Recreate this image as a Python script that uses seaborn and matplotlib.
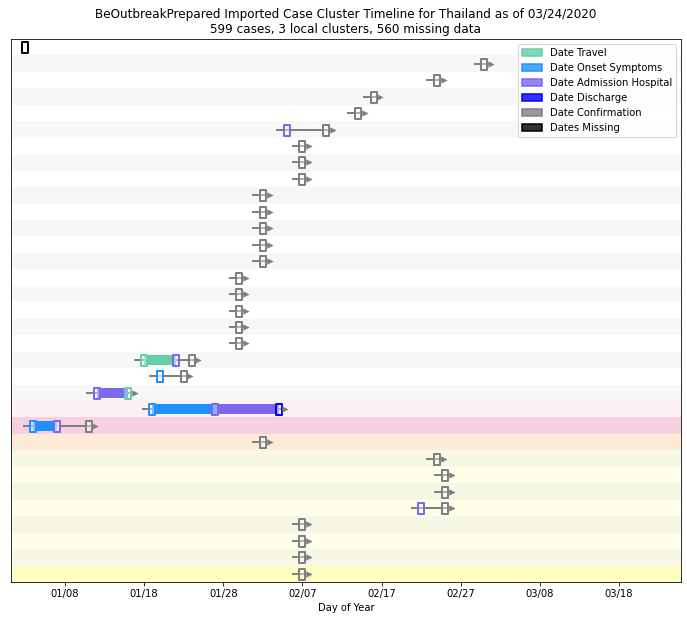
import numpy as np
import pandas as pd
import seaborn as sns
import matplotlib.pyplot as plt
from matplotlib.path import Path
from matplotlib.patches import Patch
from matplotlib.colors import to_rgba

# one row per case, top row = row 0; values are day of year 2020
n_rows = 33
travel = {19: 18, 20: 20, 21: 16, 23: 7}
onset = {20: 20, 22: 19, 23: 4}
admission = {5: 36, 19: 22, 21: 12, 22: 27, 23: 7, 28: 53}
discharge = {22: 35}
confirmation = {1: 61, 2: 55, 3: 47, 4: 45, 5: 41,
                6: 38, 7: 38, 8: 38,
                9: 33, 10: 33, 11: 33, 12: 33, 13: 33,
                14: 30, 15: 30, 16: 30, 17: 30, 18: 30,
                19: 24, 20: 23, 23: 11, 24: 33,
                25: 55, 26: 56, 27: 56, 28: 56,
                29: 38, 30: 38, 31: 38, 32: 38}
missing = {0: 3}

tick_days = [8, 18, 28, 38, 48, 58, 68, 78]
tick_labels = [(pd.Timestamp("2020-01-01") + pd.Timedelta(days=d - 1)).strftime("%m/%d")
               for d in tick_days]

events = ["Date Travel", "Date Onset Symptoms", "Date Admission Hospital",
          "Date Discharge", "Date Confirmation", "Dates Missing"]
event_data = [travel, onset, admission, discharge, confirmation, missing]
colors = ["#66cdaa", "#1e90ff", "#7b68ee", "#0000ff", "grey", "black"]

# row background shading (alternating grey, local clusters tinted)
row_bg = ["white" if i % 2 == 0 else "#f7f7f7" for i in range(22)]
row_bg += ["#fdf0f6", "#f7cfe1", "#fdebd7",
           "#f7f7e6", "#fefee9", "#f7f7e6", "#fefee9",
           "#f7f7e6", "#fefee9", "#f7f7e6", "#fefec1"]

# long table of events
rows = []
for name, d in zip(events, event_data):
    for r, day in d.items():
        rows.append({"row": r, "day": day, "event": name})
df = pd.DataFrame(rows)

fig, ax = plt.subplots(figsize=(687 / 72, 620 / 72), dpi=72)
fig.subplots_adjust(left=11 / 687, right=681 / 687, top=1 - 39 / 620, bottom=1 - 582 / 620)

for i, c in enumerate(row_bg):
    ax.axhspan(i - 0.5, i + 0.5, color=c, lw=0, zorder=0)

# grey timeline per case
tl = df[df.event != "Dates Missing"]
span = tl.groupby("row")["day"].agg(["min", "max"]).reset_index()
line_df = pd.concat([
    pd.DataFrame({"row": span["row"], "x": span["min"] - 1.2}),
    pd.DataFrame({"row": span["row"], "x": span["max"] + 0.8}),
])
sns.lineplot(data=line_df, x="x", y="row", units="row", estimator=None,
             color="grey", lw=2, legend=False, ax=ax, zorder=1)
sns.scatterplot(x=span["max"] + 0.85, y=span["row"], marker=">", s=40,
                color="grey", linewidth=0, legend=False, ax=ax, zorder=4)

# thick bars between non-confirmation events
bar_events = events[:4]
for r, g in tl[tl.event.isin(bar_events)].groupby("row"):
    g = g.sort_values("day")
    for (_, a), (_, b) in zip(g.iloc[:-1].iterrows(), g.iloc[1:].iterrows()):
        if b.day > a.day:
            ax.barh(r, b.day - a.day, left=a.day, height=0.6,
                    color=colors[events.index(a.event)], zorder=2)

# box markers
box = Path([(-0.46, -1), (0.46, -1), (0.46, 1), (-0.46, 1), (-0.46, -1)], closed=True)
for name, c in zip(events, colors):
    sub = df[df.event == name]
    ax.scatter(sub.day, sub.row, marker=box, s=121, facecolors=(1, 1, 1, 0.4),
               edgecolors=c, linewidths=2, zorder=3)

ax.set_ylim(n_rows - 0.5, -0.5)
ax.set_xlim(1.18, 85.83)
ax.set_yticks([])
ax.set_ylabel("")
ax.set_xticks(tick_days)
ax.set_xticklabels(tick_labels, fontsize=10)
ax.set_xlabel("Day of Year", fontsize=10)
ax.set_title("BeOutbreakPrepared Imported Case Cluster Timeline for Thailand as of 03/24/2020\n"
             "599 cases, 3 local clusters, 560 missing data", fontsize=12)

handles = [Patch(facecolor=to_rgba(c, 0.8), edgecolor=c, lw=1.5, label=n)
           for n, c in zip(events, colors)]
ax.legend(handles=handles, loc="upper right", fontsize=10)

fig.savefig("out.png", dpi=72)
